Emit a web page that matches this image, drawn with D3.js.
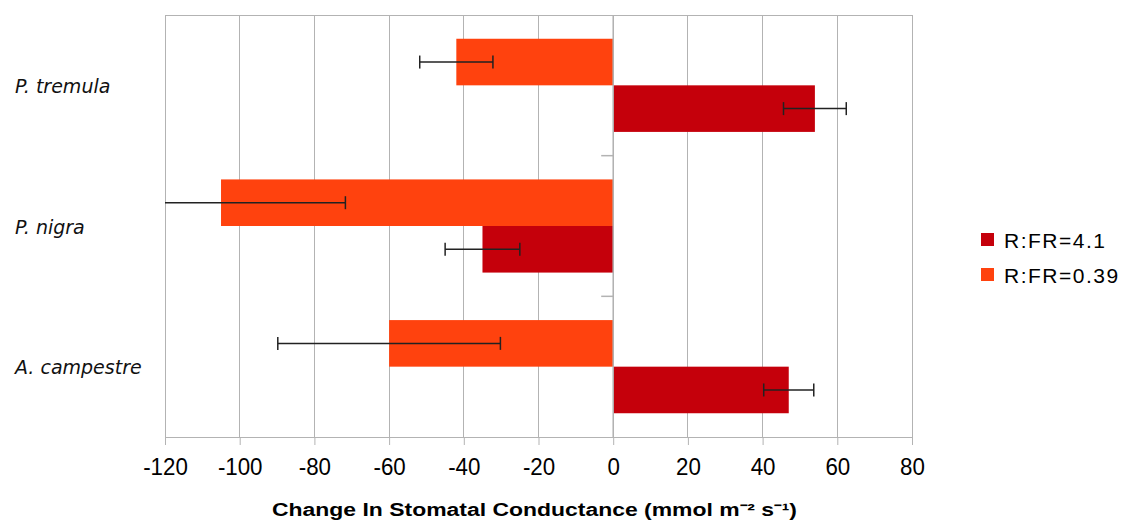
<!DOCTYPE html>
<html>
<head>
<meta charset="utf-8">
<script src="https://cdn.jsdelivr.net/npm/d3@7"></script>
<style>
  html, body { margin: 0; padding: 0; background: #fff; }
  svg { display: block; }
</style>
</head>
<body>
<svg id="chart" width="1126" height="522"></svg>
<script>
// Species and treatment data
const species = ["P. tremula", "P. nigra", "A. campestre"];
const seriesNames = ["R:FR=0.39", "R:FR=4.1"];
const seriesColors = ["#ff420e", "#c5000b"];
// change in stomatal conductance, per species
const low39 = [-42, -105, -60];
const low39Err = [9.8, 33.3, 29.8];
const high41 = [54, -35, 47];
const high41Err = [8.4, 10, 6.7];
const xTicks = [-120, -100, -80, -60, -40, -20, 0, 20, 40, 60, 80];
const legendOrder = [1, 0];

const series = [
  { name: seriesNames[0], color: seriesColors[0], values: low39, errs: low39Err },
  { name: seriesNames[1], color: seriesColors[1], values: high41, errs: high41Err }
];

const svg = d3.select("#chart");
const plotL = 165, plotR = 912, plotT = 15, plotB = 437;

const x = d3.scaleLinear().domain([-120, 80]).range([plotL, plotR]);
const y = d3.scaleBand().domain(species).range([plotT, plotB]).paddingInner(0).paddingOuter(0);
const inner = d3.scaleBand().domain(seriesNames).range([0, y.bandwidth()]).paddingOuter(0.51).paddingInner(0);

// grid lines
svg.append("g").selectAll("line").data(xTicks).join("line")
  .attr("x1", d => x(d)).attr("x2", d => x(d))
  .attr("y1", plotT).attr("y2", plotB)
  .attr("stroke", "#b3b3b3").attr("stroke-width", 1)
  .attr("shape-rendering", "crispEdges");

// frame
svg.append("rect")
  .attr("x", plotL).attr("y", plotT)
  .attr("width", plotR - plotL).attr("height", plotB - plotT)
  .attr("fill", "none").attr("stroke", "#b3b3b3").attr("stroke-width", 1)
  .attr("shape-rendering", "crispEdges");

// bars
svg.append("clipPath").attr("id", "plotclip")
  .append("rect").attr("x", plotL).attr("y", plotT)
  .attr("width", plotR - plotL).attr("height", plotB - plotT);

const groups = svg.append("g").attr("clip-path", "url(#plotclip)");
series.forEach(s => {
  const g = groups.append("g");
  g.selectAll("rect").data(species).join("rect")
    .attr("x", (d, i) => x(Math.min(0, s.values[i])))
    .attr("width", (d, i) => Math.abs(x(s.values[i]) - x(0)))
    .attr("y", d => y(d) + inner(s.name))
    .attr("height", inner.bandwidth())
    .attr("fill", s.color);
});

// zero axis line with category ticks
svg.append("line")
  .attr("x1", x(0)).attr("x2", x(0)).attr("y1", plotT).attr("y2", plotB)
  .attr("stroke", "#b3b3b3").attr("stroke-width", 1.5);
svg.append("g").selectAll("line").data([1, 2]).join("line")
  .attr("x1", x(0) - 12).attr("x2", x(0))
  .attr("y1", i => plotT + y.step() * i).attr("y2", i => plotT + y.step() * i)
  .attr("stroke", "#b3b3b3").attr("stroke-width", 1.5);

// error bars
const errs = svg.append("g").attr("clip-path", "url(#plotclip)");
series.forEach(s => {
  species.forEach((sp, i) => {
    const cy = y(sp) + inner(s.name) + inner.bandwidth() / 2;
    const lo = s.values[i] - s.errs[i], hi = s.values[i] + s.errs[i];
    const g = errs.append("g").attr("stroke", "#222").attr("stroke-width", 1.5);
    g.append("line").attr("x1", x(lo)).attr("x2", x(hi)).attr("y1", cy).attr("y2", cy);
    [lo, hi].forEach(v => {
      g.append("line").attr("x1", x(v)).attr("x2", x(v)).attr("y1", cy - 6.5).attr("y2", cy + 6.5);
    });
  });
});

// x axis
const xAxis = d3.axisBottom(x).tickValues(xTicks).tickSize(8).tickPadding(13).tickFormat(d3.format("d"));
const ax = svg.append("g").attr("transform", `translate(0,${plotB})`).call(xAxis);
ax.select(".domain").attr("stroke", "#b3b3b3");
ax.selectAll(".tick line").attr("stroke", "#b3b3b3");
ax.selectAll(".tick text")
  .attr("font-family", "'Liberation Sans', Arial, sans-serif")
  .attr("font-size", 24).attr("fill", "#000")
  .attr("transform", "scale(0.93,1)")
  .text(d => d < 0 ? "-" + Math.abs(d) : d);

// category labels
svg.append("g").selectAll("text").data(species).join("text")
  .attr("x", 15)
  .attr("y", d => y(d) + y.bandwidth() / 2)
  .attr("dy", "0.4em")
  .attr("font-family", "'DejaVu Sans', sans-serif")
  .attr("font-style", "italic")
  .attr("font-size", 19)
  .attr("fill", "#111")
  .text(d => d);

// axis title
svg.append("text")
  .attr("x", (272 + 797) / 2).attr("y", 516)
  .attr("text-anchor", "middle")
  .attr("font-family", "'Liberation Sans', Arial, sans-serif")
  .attr("font-weight", "bold").attr("font-size", 18)
  .attr("textLength", 525).attr("lengthAdjust", "spacingAndGlyphs")
  .attr("fill", "#000")
  .text("Change In Stomatal Conductance (mmol m\u207B\u00B2 s\u207B\u00B9)");

// legend
const leg = svg.append("g").attr("transform", "translate(981,233)");
legendOrder.forEach((si, k) => {
  const row = leg.append("g").attr("transform", `translate(0,${k * 35})`);
  row.append("rect").attr("width", 13).attr("height", 13).attr("fill", series[si].color);
  row.append("text").attr("x", 23).attr("y", 7).attr("dy", "0.36em")
    .attr("font-family", "'Liberation Sans', Arial, sans-serif")
    .attr("font-size", 21).attr("letter-spacing", 1.5).attr("fill", "#000")
    .text(series[si].name);
});
</script>
</body>
</html>
